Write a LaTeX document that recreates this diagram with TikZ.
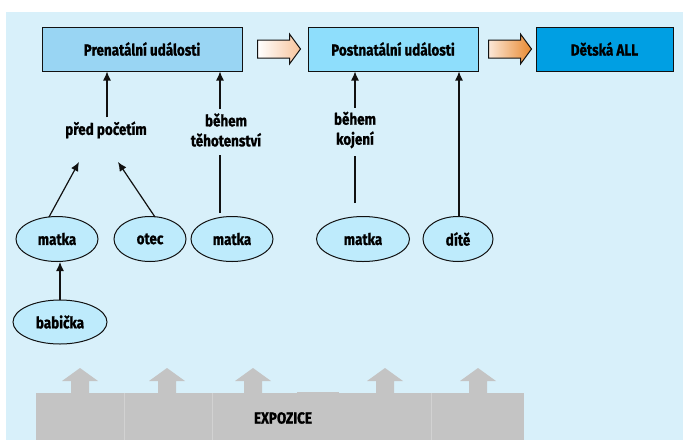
\documentclass[tikz,border=0pt]{standalone}
\usepackage{fontspec}
\setmainfont{Fira Sans}[FakeStretch=0.84, BoldFeatures={FakeBold=1}]
\usetikzlibrary{shapes.geometric,calc,arrows.meta}
\definecolor{bg}{HTML}{D8F0FA}
\definecolor{cpre}{HTML}{99D5F3}
\definecolor{cpost}{HTML}{8EDEFC}
\definecolor{call}{HTML}{009FE3}
\definecolor{cell}{HTML}{BEEBFC}
\definecolor{peach}{HTML}{F7C49C}
\definecolor{orng}{HTML}{E8892F}
\definecolor{gry}{HTML}{C4C4C4}
\definecolor{gryl}{HTML}{D2D2D2}
\definecolor{ink}{HTML}{111111}
\tikzset{
  box/.style={draw=ink, line width=1pt, minimum height=44pt, inner sep=0pt, font=\bfseries\fontsize{16}{18}\selectfont},
  oval/.style={ellipse, draw=ink, line width=1pt, fill=cell, minimum height=45pt, inner sep=0pt, font=\bfseries\fontsize{16}{18}\selectfont},
  lbl/.style={align=center, inner sep=0pt, font=\bfseries\fontsize{16}{20}\selectfont},
  arr/.style={-{Latex[length=9pt,width=8pt]}, line width=1.2pt, draw=ink},
  ln/.style={line width=1.2pt, draw=ink},
  blk/.style={draw=ink, line width=1pt},
  upar/.style={fill=gry}
}
\begin{document}
\begin{tikzpicture}[x=1pt,y=-1pt]
\useasboundingbox (0,0) rectangle (683,440);
\fill[white] (0,0) rectangle (683,440);
\fill[bg] (6,12) rectangle (683,440);
% top boxes
\node[box, fill=cpre, minimum width=200pt] (pre) at (142,49) {Prenatální události};
\node[box, fill=cpost, minimum width=170pt] (post) at (393,49) {Postnatální události};
\node[box, fill=call, minimum width=137pt] (all) at (604.5,49) {Dětská ALL};
% block arrows
\coordinate (a1) at ($(pre.east)+(15,0)$);
\shade[left color=white, right color=peach, blk]
  (a1) ++(0,-9) -- ++(32,0) -- ++(0,-6) -- ++(11,15) -- ++(-11,15) -- ++(0,-6) -- ++(-32,0) -- cycle;
\coordinate (a2) at ($(post.east)+(10,0)$);
\shade[left color=white!60!peach, right color=orng, blk]
  (a2) ++(0,-9) -- ++(32,0) -- ++(0,-6) -- ++(11,15) -- ++(-11,15) -- ++(0,-6) -- ++(-32,0) -- cycle;
% labels
\node[lbl] (pred) at (106,130) {před početím};
\node[lbl] (teh) at (226,130) {během\\těhotenství};
\node[lbl] (koj) at (355,130) {během\\kojení};
% ellipses
\node[oval, minimum width=82pt] (m1) at (57,239) {matka};
\node[oval, minimum width=72pt] (ot) at (150,239) {otec};
\node[oval, minimum width=82pt] (m2) at (232,239) {matka};
\node[oval, minimum width=93pt] (m3) at (363,239) {matka};
\node[oval, minimum width=70pt] (dt) at (458,239) {dítě};
\node[oval, minimum width=94pt, minimum height=44pt] (bab) at (60,322) {babička};
% connectors
\draw[arr] ($(pred.north)+(1,-4)$) -- ($(pre.south)+(-35,0)$);
\draw[arr] ($(teh.north)+(-6,-4)$) -- ($(pre.south)+(78,0)$);
\draw[arr] ($(koj.north)+(0,-4)$) -- ($(post.south)+(-38,0)$);
\draw[arr] ($(dt.north)+(1,0)$) -- ($(post.south)+(66,0)$);
\draw[arr] (m1.north) ++(-8,1) coordinate (m1t) -- (79,162);
\draw[arr] ($(ot.north)+(5,1)$) -- (118,162);
\draw[ln] ($(m2.north)+(-12,-3)$) -- ($(teh.south)+(-6,8)$);
\draw[ln] ($(m3.north)+(-8,-13)$) -- ($(koj.south)+(0,8)$);
\draw[arr] (bab.north) -- (m1.south -| bab.north);
% exposure
\fill[gry] (36,393) rectangle (524,440);
\fill[gry] (297,391.5) rectangle (339,393.5);
\foreach \x in {124,212,431} \draw[gryl, line width=0.6pt] (\x,393) -- (\x,440);
\foreach \x in {80,167,253,385,478}
  \fill[upar] (\x-9,393.5) -- (\x-9,381) -- (\x-18,381) -- (\x,368) -- (\x+18,381) -- (\x+9,381) -- (\x+9,393.5) -- cycle;
\node[font=\bfseries\fontsize{16}{18}\selectfont, inner sep=0pt] (exp) at (283,418) {EXPOZICE};
\end{tikzpicture}
\end{document}
